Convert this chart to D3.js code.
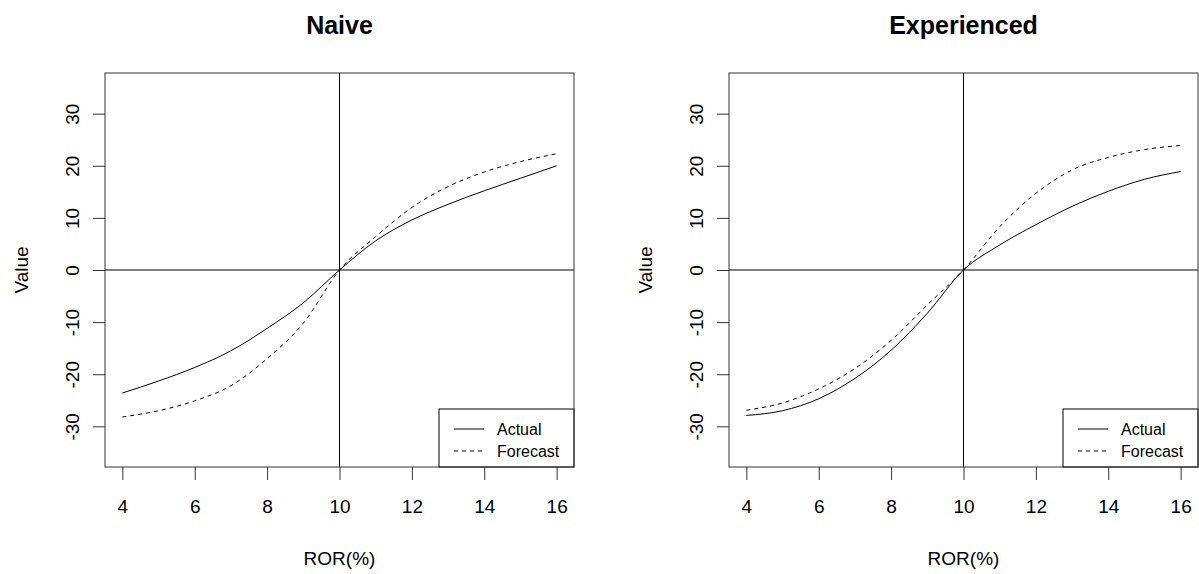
<!DOCTYPE html>
<html>
<head>
<meta charset="utf-8">
<script src="https://cdn.jsdelivr.net/npm/d3@7"></script>
<style>
  body { margin: 0; background: #fff; }
  svg text { font-family: "Liberation Sans", Arial, sans-serif; fill: #000; }
</style>
</head>
<body>
<svg width="1199" height="574"></svg>
<script>
// ROR values on the x axis
var ror = [4, 5, 6, 7, 8, 9, 10, 11, 12, 13, 14, 15, 16];

// Naive panel
var naiveActual   = [-23.6, -21.3, -18.7, -15.5, -11.2, -6.3, 0, 5.6, 9.6, 12.6, 15.2, 17.6, 20.0];
var naiveForecast = [-28.2, -27.0, -25.1, -22.2, -17.0, -10.2, 0, 6.4, 12.0, 16.0, 18.8, 20.8, 22.3];

// Experienced panel
var expActual   = [-27.9, -27.0, -24.7, -20.8, -15.4, -8.3, 0, 4.8, 8.7, 12.2, 15.1, 17.4, 18.9];
var expForecast = [-26.9, -25.5, -22.8, -18.9, -13.5, -6.7, 0, 8.3, 14.7, 19.2, 21.6, 23.1, 23.9];

var xTicks = [4, 6, 8, 10, 12, 14, 16];
var yTicks = [-30, -20, -10, 0, 10, 20, 30];

var svg = d3.select("svg");

var panels = [
  { title: "Naive", left: 105, actual: naiveActual, forecast: naiveForecast },
  { title: "Experienced", left: 729, actual: expActual, forecast: expForecast }
];

var boxW = 469, plotTop = 73, boxH = 394;
var font = "Liberation Sans, Arial, sans-serif";

panels.forEach(function(p) {
  var g = svg.append("g");

  // R-style 4% padding on both axes
  var x = d3.scaleLinear().domain([3.52, 16.48]).range([p.left, p.left + boxW]);
  var y = d3.scaleLinear().domain([-37.8, 37.8]).range([plotTop + boxH, plotTop]);

  // title
  g.append("text")
      .attr("x", x(10))
      .attr("y", 34)
      .attr("text-anchor", "middle")
      .style("font-size", "25px")
      .style("font-weight", "bold")
      .text(p.title);

  // x axis
  var xAxis = d3.axisBottom(x).tickValues(xTicks).tickSize(13).tickPadding(20);
  g.append("g")
      .attr("transform", "translate(0," + (plotTop + boxH) + ")")
      .call(xAxis)
      .call(function(a) {
        a.select(".domain").remove();
        a.selectAll("line").attr("stroke", "#333");
        a.selectAll("text").style("font-size", "19px").style("font-family", font);
      });

  // y axis, labels rotated like base R
  var yAxis = d3.axisLeft(y).tickValues(yTicks).tickSize(12).tickFormat(function(d) { return d; });
  var ya = g.append("g")
      .attr("transform", "translate(" + p.left + ",0)")
      .call(yAxis);
  ya.select(".domain").remove();
  ya.selectAll("line").attr("stroke", "#333");
  ya.selectAll("text")
      .attr("x", null)
      .attr("dy", "0.35em")
      .attr("text-anchor", "middle")
      .attr("transform", "translate(-33,0) rotate(-90)")
      .style("font-size", "19px")
      .style("font-family", font);

  // axis titles
  g.append("text")
      .attr("x", x(10))
      .attr("y", 565)
      .attr("text-anchor", "middle")
      .style("font-size", "19px")
      .text("ROR(%)");

  g.append("text")
      .attr("transform", "translate(" + (p.left - 77) + "," + y(0) + ") rotate(-90)")
      .attr("text-anchor", "middle")
      .style("font-size", "19px")
      .text("Value");

  // reference lines through (10, 0)
  g.append("line")
      .attr("x1", x(10)).attr("x2", x(10))
      .attr("y1", plotTop).attr("y2", plotTop + boxH)
      .attr("stroke", "#000");
  g.append("line")
      .attr("x1", p.left).attr("x2", p.left + boxW)
      .attr("y1", y(0)).attr("y2", y(0))
      .attr("stroke", "#000");

  var line = d3.line()
      .curve(d3.curveMonotoneX)
      .x(function(d, i) { return x(ror[i]); })
      .y(function(d) { return y(d); });

  g.append("path")
      .datum(p.actual)
      .attr("d", line)
      .attr("fill", "none")
      .attr("stroke", "#000")
      .attr("stroke-width", 1);

  g.append("path")
      .datum(p.forecast)
      .attr("d", line)
      .attr("fill", "none")
      .attr("stroke", "#000")
      .attr("stroke-width", 1)
      .attr("stroke-dasharray", "4,4");

  // legend in bottom-right corner
  var lx = p.left + boxW - 135, ly = plotTop + boxH - 58;
  var leg = g.append("g");
  leg.append("rect")
      .attr("x", lx).attr("y", ly)
      .attr("width", 135).attr("height", 58)
      .attr("fill", "#fff")
      .attr("stroke", "#000");
  [["Actual", null, 20], ["Forecast", "4,4", 42]].forEach(function(e) {
    leg.append("line")
        .attr("x1", lx + 15).attr("x2", lx + 45)
        .attr("y1", ly + e[2]).attr("y2", ly + e[2])
        .attr("stroke", "#000")
        .attr("stroke-dasharray", e[1]);
    leg.append("text")
        .attr("x", lx + 58)
        .attr("y", ly + e[2] + 6)
        .style("font-size", "16px")
        .text(e[0]);
  });

  // plot frame
  g.append("rect")
      .attr("x", p.left).attr("y", plotTop)
      .attr("width", boxW).attr("height", boxH)
      .attr("fill", "none")
      .attr("stroke", "#333");
});
</script>
</body>
</html>
